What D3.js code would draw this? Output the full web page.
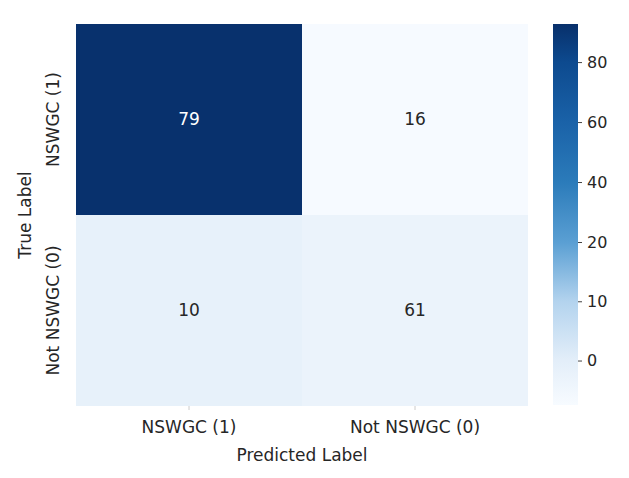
<!DOCTYPE html>
<html lang="en">
<head>
<meta charset="utf-8">
<title>Confusion matrix</title>
<script src="https://d3js.org/d3.v7.min.js"></script>
<style>
  body { margin: 0; background: #fff; }
  text { font-family: "DejaVu Sans", sans-serif; fill: #262626; }
</style>
</head>
<body>
<div id="chart"></div>
<script>
// data
var predLabels = ["NSWGC (1)", "Not NSWGC (0)"];
var trueLabels = ["NSWGC (1)", "Not NSWGC (0)"];
var counts = [[79, 16], [10, 61]];
// shade of each cell as it appears against the colour bar
var shades = [[92, -7], [-1.5, -3]];
var barTicks = [0, 10, 20, 40, 60, 80];
var barDomain = [-7.5, 0, 10, 20, 40, 60, 80, 92.7];
var barColors = ["#f7fbff", "#e3eef9", "#b3d3ee", "#5a9fd3", "#2b7bba", "#1a62a8", "#0d4a8f", "#08306b"];

var width = 629, height = 478;
var m = {left: 76, top: 24, right: 101, bottom: 72};

var svg = d3.select("#chart").append("svg")
    .attr("width", width)
    .attr("height", height);

var x = d3.scaleBand().domain(predLabels).range([m.left, width - m.right]);
var y = d3.scaleBand().domain(trueLabels).range([m.top, height - m.bottom]);
var color = d3.scaleLinear().domain(barDomain).range(barColors).clamp(true);

var cells = [];
trueLabels.forEach(function (t, i) {
    predLabels.forEach(function (p, j) {
        cells.push({t: t, p: p, n: counts[i][j], s: shades[i][j]});
    });
});

svg.selectAll("rect.cell")
    .data(cells)
    .enter().append("rect")
    .attr("class", "cell")
    .attr("x", function (d) { return x(d.p); })
    .attr("y", function (d) { return y(d.t); })
    .attr("width", x.bandwidth())
    .attr("height", y.bandwidth())
    .attr("fill", function (d) { return color(d.s); });

svg.selectAll("text.ann")
    .data(cells)
    .enter().append("text")
    .attr("class", "ann")
    .attr("x", function (d) { return x(d.p) + x.bandwidth() / 2; })
    .attr("y", function (d) { return y(d.t) + y.bandwidth() / 2; })
    .attr("dy", "0.35em")
    .attr("text-anchor", "middle")
    .style("font-size", "17px")
    .style("fill", function (d) { return d.s > 50 ? "#ffffff" : "#262626"; })
    .text(function (d) { return d.n; });

// x axis
var xAxis = svg.append("g")
    .attr("transform", "translate(0," + (height - m.bottom) + ")")
    .call(d3.axisBottom(x).tickSize(4).tickPadding(11));
xAxis.select(".domain").remove();
xAxis.selectAll("line").attr("stroke", "#cccccc");
xAxis.selectAll("text").style("font-size", "17px").style("font-family", "DejaVu Sans").attr("fill", "#262626");

// y axis (labels rotated)
var yAxis = svg.append("g")
    .attr("transform", "translate(" + m.left + ",0)")
    .call(d3.axisLeft(y).tickSize(0).tickPadding(0));
yAxis.select(".domain").remove();
yAxis.selectAll("text")
    .attr("x", 0).attr("dy", 0)
    .attr("transform", "translate(-17,0) rotate(-90)")
    .attr("text-anchor", "middle")
    .style("font-size", "17px")
    .style("font-family", "DejaVu Sans")
    .attr("fill", "#262626");

svg.append("text")
    .attr("x", (m.left + width - m.right) / 2)
    .attr("y", 461)
    .attr("text-anchor", "middle")
    .style("font-size", "17px")
    .text("Predicted Label");

svg.append("text")
    .attr("transform", "translate(31," + (m.top + (height - m.bottom - m.top) / 2) + ") rotate(-90)")
    .attr("text-anchor", "middle")
    .style("font-size", "17px")
    .text("True Label");

// colour bar
var barX = 553, barW = 25, barTop = 24, barBot = 405;
var cy = d3.scaleLinear()
    .domain([-7.5, 20, 92.7])
    .range([barBot, 242, barTop]);

var defs = svg.append("defs");
var grad = defs.append("linearGradient")
    .attr("id", "bar")
    .attr("x1", 0).attr("x2", 0).attr("y1", 1).attr("y2", 0);
barDomain.forEach(function (v, i) {
    grad.append("stop")
        .attr("offset", (barBot - cy(v)) / (barBot - barTop))
        .attr("stop-color", barColors[i]);
});

svg.append("rect")
    .attr("x", barX).attr("y", barTop)
    .attr("width", barW).attr("height", barBot - barTop)
    .attr("fill", "url(#bar)");

var cAxis = svg.append("g")
    .attr("transform", "translate(" + (barX + barW) + ",0)")
    .call(d3.axisRight(cy).tickValues(barTicks).tickSize(4).tickPadding(5));
cAxis.select(".domain").remove();
cAxis.selectAll("line").attr("stroke", "#444");
cAxis.selectAll("text").style("font-size", "16px").style("font-family", "DejaVu Sans").attr("fill", "#262626");
</script>
</body>
</html>
